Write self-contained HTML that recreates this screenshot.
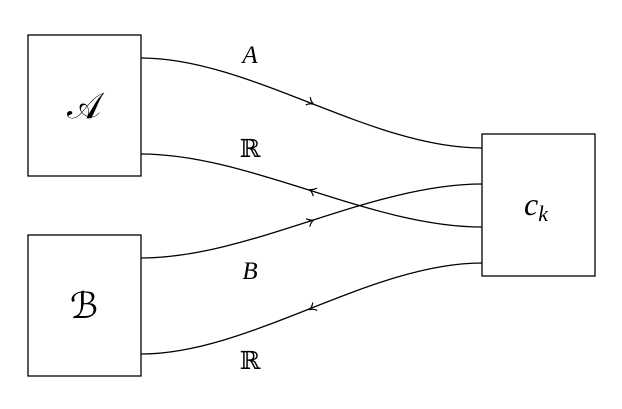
<!DOCTYPE html>
<html><head><style>body{margin:0;background:#fff}svg{display:block}
.t{font-family:"Liberation Serif","DejaVu Serif",serif}</style></head>
<body>
<svg width="622" height="409" xmlns="http://www.w3.org/2000/svg">
<g fill="none" stroke="#000" stroke-width="1.3">
<rect x="28" y="35" width="113" height="141"/>
<rect x="28" y="235" width="113" height="141"/>
<rect x="482" y="134" width="113" height="142"/>
<path d="M141,58 C250,58 370,148 482,148"/>
<path d="M141,154 C250,154 370,227 482,227"/>
<path d="M141,258 C250,258 370,184 482,184"/>
<path d="M141,354 C250,354 370,263 482,263"/>
</g>
<g fill="none" stroke="#000" stroke-width="1.2">
<path transform="translate(311.5,103) rotate(30)" d="M-4,-4.5 Q-1.5,-1 2.5,0 Q-1.5,1 -4,4.5"/>
<path transform="translate(311.5,190.5) rotate(205)" d="M-4,-4.5 Q-1.5,-1 2.5,0 Q-1.5,1 -4,4.5"/>
<path transform="translate(311.5,221) rotate(-25)" d="M-4,-4.5 Q-1.5,-1 2.5,0 Q-1.5,1 -4,4.5"/>
<path transform="translate(311.5,308.5) rotate(150)" d="M-4,-4.5 Q-1.5,-1 2.5,0 Q-1.5,1 -4,4.5"/>
</g>
<g class="t" fill="#000" text-anchor="middle">
<text x="84" y="118" font-size="36">𝒜</text>
<text x="84" y="318" font-size="36">ℬ</text>
<text x="536" y="215" font-size="32" font-style="italic">c<tspan font-size="22" dy="6">k</tspan></text>
<text x="250" y="63" font-size="25" font-style="italic">A</text>
<text x="250" y="157" font-size="25">ℝ</text>
<text x="250" y="279" font-size="25" font-style="italic">B</text>
<text x="250" y="369" font-size="25">ℝ</text>
</g>
</svg>
</body></html>
